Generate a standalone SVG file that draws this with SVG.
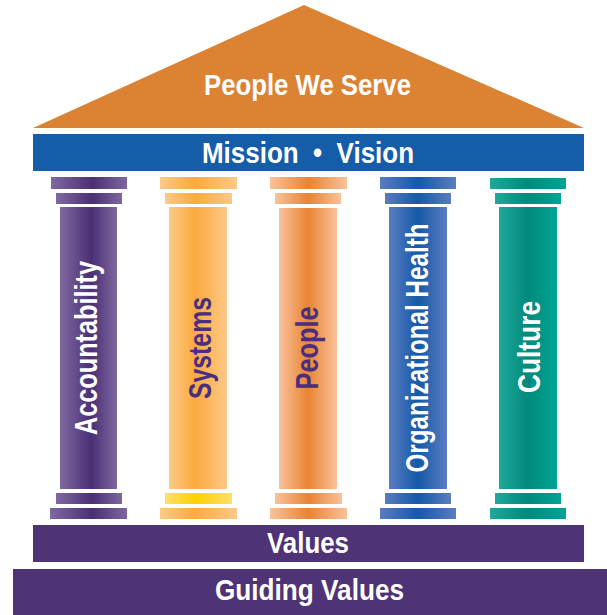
<svg xmlns="http://www.w3.org/2000/svg" width="607" height="615" viewBox="0 0 607 615">
<defs>
<linearGradient id="gPurple" x1="0" x2="1" y1="0" y2="0">
<stop offset="0" stop-color="#8069A1"/><stop offset="0.55" stop-color="#4A2F75"/><stop offset="1" stop-color="#7E67A0"/>
</linearGradient>
<linearGradient id="gOrange" x1="0" x2="1" y1="0" y2="0">
<stop offset="0" stop-color="#FDCA88"/><stop offset="0.45" stop-color="#FBAA3E"/><stop offset="1" stop-color="#FDC887"/>
</linearGradient>
<linearGradient id="gYellow" x1="0" x2="1" y1="0" y2="0">
<stop offset="0" stop-color="#FDE06A"/><stop offset="0.45" stop-color="#FDD000"/><stop offset="1" stop-color="#FDE06A"/>
</linearGradient>
<linearGradient id="gPeach" x1="0" x2="1" y1="0" y2="0">
<stop offset="0" stop-color="#FAC29A"/><stop offset="0.5" stop-color="#E88434"/><stop offset="1" stop-color="#FAC29A"/>
</linearGradient>
<linearGradient id="gBlue" x1="0" x2="1" y1="0" y2="0">
<stop offset="0" stop-color="#5B7CC1"/><stop offset="0.5" stop-color="#1459A8"/><stop offset="1" stop-color="#5B7CC1"/>
</linearGradient>
<linearGradient id="gTeal" x1="0" x2="1" y1="0" y2="0">
<stop offset="0" stop-color="#20A89B"/><stop offset="0.5" stop-color="#008A7B"/><stop offset="1" stop-color="#00A496"/>
</linearGradient>
</defs>
<style>
.t{font-family:"Liberation Sans",Arial,sans-serif;font-weight:bold;fill:#FFFFFF;text-anchor:middle;font-size:30px}
.pt{font-family:"Liberation Sans",Arial,sans-serif;font-weight:bold;text-anchor:middle;font-size:31px}
.w{fill:#FFFFFF}
.p{fill:#4A2E80}
.band{fill:#4E3477}
</style>
<g id="roof">
<polygon points="304,5 33,128 584,128" fill="#DB8233"/>
<text class="t" x="307.5" y="95" textLength="207" lengthAdjust="spacingAndGlyphs">People We Serve</text>
</g>
<g id="mission">
<rect x="33" y="134" width="551" height="37" fill="#165DA9"/>
<text class="t" x="308" y="163" xml:space="preserve" style="white-space:pre" textLength="212" lengthAdjust="spacingAndGlyphs">Mission  •  Vision</text>
</g>
<g id="col-accountability">
<rect x="51" y="177" width="76" height="12" fill="url(#gPurple)"/>
<rect x="56" y="193" width="66" height="11" fill="url(#gPurple)"/>
<rect x="60" y="207" width="57" height="282" fill="url(#gPurple)"/>
<rect x="56" y="493" width="66" height="11" fill="url(#gPurple)"/>
<rect x="50" y="508" width="77" height="11" fill="url(#gPurple)"/>
<text class="pt w" transform="translate(97,348) rotate(-90)" textLength="174" lengthAdjust="spacingAndGlyphs">Accountability</text>
</g>
<g id="col-systems">
<rect x="160" y="177" width="77" height="12" fill="url(#gOrange)"/>
<rect x="165" y="193" width="67" height="11" fill="url(#gOrange)"/>
<rect x="169" y="207" width="58" height="282" fill="url(#gOrange)"/>
<rect x="165" y="493" width="67" height="11" fill="url(#gYellow)"/>
<rect x="160" y="508" width="77" height="11" fill="url(#gOrange)"/>
<text class="pt p" transform="translate(210.5,348) rotate(-90)" textLength="102" lengthAdjust="spacingAndGlyphs">Systems</text>
</g>
<g id="col-people">
<rect x="270" y="177" width="77" height="12" fill="url(#gPeach)"/>
<rect x="275" y="193" width="66" height="11" fill="url(#gPeach)"/>
<rect x="279" y="208" width="58" height="281" fill="url(#gPeach)"/>
<rect x="275" y="493" width="67" height="11" fill="url(#gPeach)"/>
<rect x="270" y="508" width="77" height="11" fill="url(#gPeach)"/>
<text class="pt p" transform="translate(318,348) rotate(-90)" textLength="83" lengthAdjust="spacingAndGlyphs">People</text>
</g>
<g id="col-organizational-health">
<rect x="380" y="177" width="76" height="12" fill="url(#gBlue)"/>
<rect x="385" y="193" width="66" height="11" fill="url(#gBlue)"/>
<rect x="389" y="207" width="58" height="282" fill="url(#gBlue)"/>
<rect x="385" y="493" width="66" height="11" fill="url(#gBlue)"/>
<rect x="380" y="508" width="76" height="11" fill="url(#gBlue)"/>
<text class="pt w" transform="translate(428,348) rotate(-90)" textLength="249" lengthAdjust="spacingAndGlyphs">Organizational Health</text>
</g>
<g id="col-culture">
<rect x="490" y="178" width="76" height="11" fill="url(#gTeal)"/>
<rect x="495" y="193" width="66" height="11" fill="url(#gTeal)"/>
<rect x="499" y="207" width="58" height="282" fill="url(#gTeal)"/>
<rect x="495" y="493" width="66" height="11" fill="url(#gTeal)"/>
<rect x="490" y="508" width="76" height="11" fill="url(#gTeal)"/>
<text class="pt w" transform="translate(540,347) rotate(-90)" textLength="92" lengthAdjust="spacingAndGlyphs">Culture</text>
</g>
<g id="values">
<rect class="band" x="33" y="525" width="551" height="37"/>
<text class="t" x="308" y="553" textLength="82" lengthAdjust="spacingAndGlyphs">Values</text>
</g>
<g id="guiding-values">
<rect class="band" x="13" y="569" width="594" height="46"/>
<text class="t" x="309.5" y="600" textLength="189" lengthAdjust="spacingAndGlyphs">Guiding Values</text>
</g>
<g id="connectors"/>
</svg>
